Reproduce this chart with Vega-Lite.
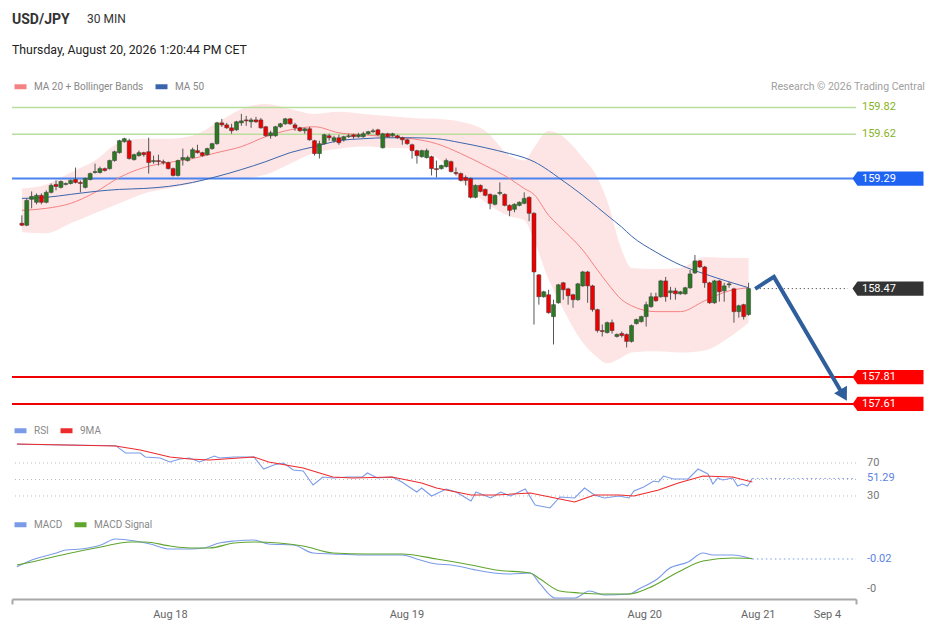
{
  "$schema": "https://vega.github.io/schema/vega-lite/v6.json",
  "background": "white",
  "padding": {"left": 11, "top": 12, "right": 3, "bottom": 10},
  "title": {
    "text": "USD/JPY",
    "subtitle": "Thursday, August 20, 2026 1:20:44 PM CET",
    "anchor": "start",
    "frame": "group",
    "offset": -44,
    "fontSize": 14,
    "fontWeight": "bold",
    "color": "#333333",
    "subtitleFontSize": 12.3,
    "subtitleColor": "#222222",
    "subtitlePadding": 17
  },
  "bounds": "flush",
  "spacing": 27,
  "resolve": {"scale": {"color": "independent", "fill": "independent"}, "legend": {"color": "independent"}},
  "datasets": {
    "candles": [
      {"i":0,"o":158.957,"h":159.016,"l":158.935,"c":158.942},
      {"i":1,"o":158.942,"h":159.142,"l":158.935,"c":159.127},
      {"i":2,"o":159.135,"h":159.194,"l":159.068,"c":159.157},
      {"i":3,"o":159.113,"h":159.179,"l":159.098,"c":159.165},
      {"i":4,"o":159.165,"h":159.179,"l":159.098,"c":159.113},
      {"i":5,"o":159.113,"h":159.202,"l":159.105,"c":159.187},
      {"i":6,"o":159.187,"h":159.253,"l":159.179,"c":159.239},
      {"i":7,"o":159.246,"h":159.276,"l":159.202,"c":159.231},
      {"i":8,"o":159.224,"h":159.276,"l":159.216,"c":159.268},
      {"i":9,"o":159.246,"h":159.261,"l":159.239,"c":159.253},
      {"i":10,"o":159.253,"h":159.283,"l":159.246,"c":159.276},
      {"i":11,"o":159.283,"h":159.372,"l":159.253,"c":159.261},
      {"i":12,"o":159.261,"h":159.276,"l":159.187,"c":159.253},
      {"i":13,"o":159.224,"h":159.298,"l":159.216,"c":159.290},
      {"i":14,"o":159.283,"h":159.335,"l":159.276,"c":159.327},
      {"i":15,"o":159.335,"h":159.401,"l":159.327,"c":159.342},
      {"i":16,"o":159.335,"h":159.379,"l":159.327,"c":159.364},
      {"i":17,"o":159.364,"h":159.372,"l":159.342,"c":159.350},
      {"i":18,"o":159.364,"h":159.431,"l":159.357,"c":159.424},
      {"i":19,"o":159.424,"h":159.498,"l":159.416,"c":159.490},
      {"i":20,"o":159.483,"h":159.579,"l":159.476,"c":159.572},
      {"i":21,"o":159.565,"h":159.594,"l":159.557,"c":159.587},
      {"i":22,"o":159.572,"h":159.587,"l":159.431,"c":159.439},
      {"i":23,"o":159.431,"h":159.476,"l":159.424,"c":159.468},
      {"i":24,"o":159.461,"h":159.498,"l":159.453,"c":159.483},
      {"i":25,"o":159.483,"h":159.490,"l":159.453,"c":159.468},
      {"i":26,"o":159.490,"h":159.594,"l":159.327,"c":159.409},
      {"i":27,"o":159.416,"h":159.461,"l":159.401,"c":159.424},
      {"i":28,"o":159.424,"h":159.468,"l":159.387,"c":159.416},
      {"i":29,"o":159.416,"h":159.431,"l":159.394,"c":159.409},
      {"i":30,"o":159.409,"h":159.416,"l":159.357,"c":159.364},
      {"i":31,"o":159.364,"h":159.372,"l":159.305,"c":159.313},
      {"i":32,"o":159.313,"h":159.431,"l":159.305,"c":159.424},
      {"i":33,"o":159.431,"h":159.513,"l":159.387,"c":159.446},
      {"i":34,"o":159.424,"h":159.461,"l":159.416,"c":159.446},
      {"i":35,"o":159.446,"h":159.520,"l":159.439,"c":159.505},
      {"i":36,"o":159.498,"h":159.542,"l":159.476,"c":159.483},
      {"i":37,"o":159.483,"h":159.490,"l":159.453,"c":159.461},
      {"i":38,"o":159.468,"h":159.520,"l":159.461,"c":159.513},
      {"i":39,"o":159.513,"h":159.557,"l":159.505,"c":159.550},
      {"i":40,"o":159.550,"h":159.713,"l":159.542,"c":159.705},
      {"i":41,"o":159.705,"h":159.735,"l":159.676,"c":159.690},
      {"i":42,"o":159.690,"h":159.705,"l":159.661,"c":159.668},
      {"i":43,"o":159.668,"h":159.698,"l":159.624,"c":159.646},
      {"i":44,"o":159.653,"h":159.720,"l":159.646,"c":159.713},
      {"i":45,"o":159.705,"h":159.772,"l":159.683,"c":159.720},
      {"i":46,"o":159.727,"h":159.757,"l":159.683,"c":159.720},
      {"i":47,"o":159.713,"h":159.742,"l":159.668,"c":159.727},
      {"i":48,"o":159.727,"h":159.750,"l":159.705,"c":159.713},
      {"i":49,"o":159.727,"h":159.742,"l":159.661,"c":159.668},
      {"i":50,"o":159.676,"h":159.683,"l":159.602,"c":159.609},
      {"i":51,"o":159.609,"h":159.646,"l":159.587,"c":159.631},
      {"i":52,"o":159.609,"h":159.683,"l":159.602,"c":159.676},
      {"i":53,"o":159.676,"h":159.705,"l":159.668,"c":159.698},
      {"i":54,"o":159.698,"h":159.742,"l":159.690,"c":159.735},
      {"i":55,"o":159.735,"h":159.742,"l":159.690,"c":159.698},
      {"i":56,"o":159.690,"h":159.705,"l":159.646,"c":159.668},
      {"i":57,"o":159.668,"h":159.676,"l":159.639,"c":159.646},
      {"i":58,"o":159.646,"h":159.668,"l":159.624,"c":159.661},
      {"i":59,"o":159.661,"h":159.676,"l":159.572,"c":159.579},
      {"i":60,"o":159.572,"h":159.579,"l":159.461,"c":159.476},
      {"i":61,"o":159.476,"h":159.572,"l":159.439,"c":159.550},
      {"i":62,"o":159.550,"h":159.624,"l":159.542,"c":159.616},
      {"i":63,"o":159.609,"h":159.624,"l":159.572,"c":159.594},
      {"i":64,"o":159.572,"h":159.609,"l":159.557,"c":159.594},
      {"i":65,"o":159.594,"h":159.616,"l":159.542,"c":159.557},
      {"i":66,"o":159.579,"h":159.609,"l":159.565,"c":159.602},
      {"i":67,"o":159.602,"h":159.624,"l":159.594,"c":159.609},
      {"i":68,"o":159.616,"h":159.624,"l":159.587,"c":159.602},
      {"i":69,"o":159.602,"h":159.631,"l":159.594,"c":159.616},
      {"i":70,"o":159.602,"h":159.639,"l":159.594,"c":159.624},
      {"i":71,"o":159.624,"h":159.646,"l":159.616,"c":159.639},
      {"i":72,"o":159.639,"h":159.661,"l":159.631,"c":159.646},
      {"i":73,"o":159.653,"h":159.661,"l":159.609,"c":159.616},
      {"i":74,"o":159.520,"h":159.631,"l":159.513,"c":159.624},
      {"i":75,"o":159.624,"h":159.631,"l":159.594,"c":159.602},
      {"i":76,"o":159.609,"h":159.631,"l":159.602,"c":159.624},
      {"i":77,"o":159.609,"h":159.616,"l":159.587,"c":159.594},
      {"i":78,"o":159.594,"h":159.602,"l":159.542,"c":159.579},
      {"i":79,"o":159.579,"h":159.587,"l":159.542,"c":159.550},
      {"i":80,"o":159.542,"h":159.550,"l":159.439,"c":159.498},
      {"i":81,"o":159.498,"h":159.505,"l":159.401,"c":159.461},
      {"i":82,"o":159.453,"h":159.505,"l":159.446,"c":159.498},
      {"i":83,"o":159.446,"h":159.513,"l":159.439,"c":159.498},
      {"i":84,"o":159.453,"h":159.461,"l":159.313,"c":159.364},
      {"i":85,"o":159.364,"h":159.424,"l":159.298,"c":159.357},
      {"i":86,"o":159.364,"h":159.394,"l":159.357,"c":159.387},
      {"i":87,"o":159.379,"h":159.439,"l":159.372,"c":159.424},
      {"i":88,"o":159.416,"h":159.424,"l":159.335,"c":159.342},
      {"i":89,"o":159.335,"h":159.372,"l":159.313,"c":159.327},
      {"i":90,"o":159.327,"h":159.335,"l":159.268,"c":159.276},
      {"i":91,"o":159.298,"h":159.313,"l":159.239,"c":159.276},
      {"i":92,"o":159.290,"h":159.298,"l":159.142,"c":159.150},
      {"i":93,"o":159.150,"h":159.246,"l":159.142,"c":159.239},
      {"i":94,"o":159.239,"h":159.246,"l":159.187,"c":159.194},
      {"i":95,"o":159.209,"h":159.216,"l":159.157,"c":159.165},
      {"i":96,"o":159.172,"h":159.179,"l":159.061,"c":159.105},
      {"i":97,"o":159.098,"h":159.172,"l":159.090,"c":159.165},
      {"i":98,"o":159.179,"h":159.261,"l":159.165,"c":159.187},
      {"i":99,"o":159.172,"h":159.179,"l":159.083,"c":159.090},
      {"i":100,"o":159.090,"h":159.098,"l":159.009,"c":159.053},
      {"i":101,"o":159.061,"h":159.105,"l":159.039,"c":159.098},
      {"i":102,"o":159.090,"h":159.120,"l":159.083,"c":159.113},
      {"i":103,"o":159.105,"h":159.187,"l":159.098,"c":159.142},
      {"i":104,"o":159.150,"h":159.157,"l":158.972,"c":159.031},
      {"i":105,"o":159.031,"h":159.039,"l":158.202,"c":158.594},
      {"i":106,"o":158.572,"h":158.579,"l":158.350,"c":158.409},
      {"i":107,"o":158.409,"h":158.453,"l":158.402,"c":158.446},
      {"i":108,"o":158.424,"h":158.461,"l":158.283,"c":158.290},
      {"i":109,"o":158.261,"h":158.387,"l":158.053,"c":158.350},
      {"i":110,"o":158.364,"h":158.505,"l":158.357,"c":158.498},
      {"i":111,"o":158.513,"h":158.520,"l":158.387,"c":158.461},
      {"i":112,"o":158.468,"h":158.476,"l":158.350,"c":158.416},
      {"i":113,"o":158.424,"h":158.431,"l":158.327,"c":158.387},
      {"i":114,"o":158.387,"h":158.513,"l":158.379,"c":158.505},
      {"i":115,"o":158.490,"h":158.602,"l":158.483,"c":158.594},
      {"i":116,"o":158.594,"h":158.602,"l":158.364,"c":158.490},
      {"i":117,"o":158.490,"h":158.498,"l":158.298,"c":158.313},
      {"i":118,"o":158.313,"h":158.320,"l":158.142,"c":158.157},
      {"i":119,"o":158.157,"h":158.202,"l":158.113,"c":158.150},
      {"i":120,"o":158.142,"h":158.224,"l":158.135,"c":158.216},
      {"i":121,"o":158.216,"h":158.239,"l":158.135,"c":158.157},
      {"i":122,"o":158.113,"h":158.135,"l":158.105,"c":158.128},
      {"i":123,"o":158.135,"h":158.150,"l":158.105,"c":158.120},
      {"i":124,"o":158.128,"h":158.135,"l":158.031,"c":158.076},
      {"i":125,"o":158.076,"h":158.202,"l":158.068,"c":158.194},
      {"i":126,"o":158.209,"h":158.246,"l":158.202,"c":158.239},
      {"i":127,"o":158.224,"h":158.268,"l":158.216,"c":158.261},
      {"i":128,"o":158.261,"h":158.372,"l":158.187,"c":158.350},
      {"i":129,"o":158.335,"h":158.439,"l":158.327,"c":158.409},
      {"i":130,"o":158.409,"h":158.439,"l":158.372,"c":158.379},
      {"i":131,"o":158.409,"h":158.535,"l":158.402,"c":158.527},
      {"i":132,"o":158.527,"h":158.557,"l":158.372,"c":158.409},
      {"i":133,"o":158.439,"h":158.483,"l":158.387,"c":158.453},
      {"i":134,"o":158.453,"h":158.476,"l":158.387,"c":158.431},
      {"i":135,"o":158.431,"h":158.453,"l":158.424,"c":158.446},
      {"i":136,"o":158.431,"h":158.483,"l":158.424,"c":158.476},
      {"i":137,"o":158.476,"h":158.609,"l":158.468,"c":158.579},
      {"i":138,"o":158.587,"h":158.720,"l":158.579,"c":158.676},
      {"i":139,"o":158.676,"h":158.683,"l":158.624,"c":158.631},
      {"i":140,"o":158.631,"h":158.639,"l":158.476,"c":158.513},
      {"i":141,"o":158.513,"h":158.520,"l":158.357,"c":158.364},
      {"i":142,"o":158.364,"h":158.535,"l":158.357,"c":158.527},
      {"i":143,"o":158.527,"h":158.535,"l":158.372,"c":158.446},
      {"i":144,"o":158.453,"h":158.513,"l":158.372,"c":158.490},
      {"i":145,"o":158.498,"h":158.520,"l":158.476,"c":158.505},
      {"i":146,"o":158.468,"h":158.476,"l":158.216,"c":158.298},
      {"i":147,"o":158.298,"h":158.350,"l":158.253,"c":158.342},
      {"i":148,"o":158.350,"h":158.357,"l":158.239,"c":158.261},
      {"i":149,"o":158.276,"h":158.513,"l":158.268,"c":158.470}
    ],
    "bands": [
      {"i":0,"ma20":159.053,"ma50":159.142,"up":159.216,"lo":158.890},
      {"i":5,"ma20":159.068,"ma50":159.150,"up":159.246,"lo":158.883},
      {"i":10,"ma20":159.105,"ma50":159.172,"up":159.335,"lo":158.957},
      {"i":15,"ma20":159.187,"ma50":159.194,"up":159.424,"lo":159.031},
      {"i":20,"ma20":159.298,"ma50":159.209,"up":159.557,"lo":159.105},
      {"i":25,"ma20":159.372,"ma50":159.216,"up":159.587,"lo":159.179},
      {"i":30,"ma20":159.409,"ma50":159.231,"up":159.587,"lo":159.216},
      {"i":35,"ma20":159.439,"ma50":159.261,"up":159.609,"lo":159.253},
      {"i":40,"ma20":159.483,"ma50":159.305,"up":159.705,"lo":159.298},
      {"i":45,"ma20":159.528,"ma50":159.357,"up":159.809,"lo":159.290},
      {"i":50,"ma20":159.602,"ma50":159.416,"up":159.846,"lo":159.320},
      {"i":55,"ma20":159.653,"ma50":159.483,"up":159.809,"lo":159.401},
      {"i":60,"ma20":159.676,"ma50":159.528,"up":159.772,"lo":159.483},
      {"i":65,"ma20":159.631,"ma50":159.572,"up":159.787,"lo":159.513},
      {"i":70,"ma20":159.616,"ma50":159.587,"up":159.772,"lo":159.528},
      {"i":75,"ma20":159.602,"ma50":159.594,"up":159.757,"lo":159.520},
      {"i":80,"ma20":159.587,"ma50":159.594,"up":159.742,"lo":159.513},
      {"i":85,"ma20":159.550,"ma50":159.587,"up":159.735,"lo":159.446},
      {"i":90,"ma20":159.476,"ma50":159.557,"up":159.713,"lo":159.276},
      {"i":95,"ma20":159.387,"ma50":159.520,"up":159.646,"lo":159.113},
      {"i":100,"ma20":159.290,"ma50":159.476,"up":159.461,"lo":159.009},
      {"i":103,"ma20":159.216,"ma50":159.446,"up":159.424,"lo":158.979},
      {"i":105,"ma20":159.172,"ma50":159.416,"up":159.520,"lo":158.831},
      {"i":108,"ma20":159.016,"ma50":159.350,"up":159.646,"lo":158.535},
      {"i":110,"ma20":158.942,"ma50":159.298,"up":159.624,"lo":158.387},
      {"i":115,"ma20":158.757,"ma50":159.165,"up":159.446,"lo":158.068},
      {"i":118,"ma20":158.609,"ma50":159.076,"up":159.298,"lo":157.957},
      {"i":120,"ma20":158.513,"ma50":159.016,"up":159.127,"lo":157.913},
      {"i":123,"ma20":158.387,"ma50":158.928,"up":158.757,"lo":157.957},
      {"i":125,"ma20":158.342,"ma50":158.861,"up":158.624,"lo":157.994},
      {"i":130,"ma20":158.298,"ma50":158.742,"up":158.616,"lo":158.002},
      {"i":135,"ma20":158.298,"ma50":158.646,"up":158.624,"lo":157.994},
      {"i":140,"ma20":158.379,"ma50":158.579,"up":158.705,"lo":158.009},
      {"i":145,"ma20":158.453,"ma50":158.520,"up":158.698,"lo":158.105},
      {"i":149,"ma20":158.476,"ma50":158.476,"up":158.698,"lo":158.216}
    ],
    "levels": [
      {"p":159.82,"t":"159.82","k":"target"},
      {"p":159.62,"t":"159.62","k":"target"},
      {"p":159.29,"t":"159.29","k":"pivot"},
      {"p":158.47,"t":"158.47","k":"last"},
      {"p":157.81,"t":"157.81","k":"support"},
      {"p":157.61,"t":"157.61","k":"support"}
    ],
    "rsi": [
      {"i":0,"s":"RSI","v":92.7},{"i":20,"s":"RSI","v":91.0},{"i":22,"s":"RSI","v":82.1},{"i":25,"s":"RSI","v":82.1},
      {"i":26,"s":"RSI","v":77.3},{"i":29,"s":"RSI","v":76.1},{"i":31,"s":"RSI","v":71.2},{"i":33,"s":"RSI","v":74.8},
      {"i":35,"s":"RSI","v":76.1},{"i":37,"s":"RSI","v":71.2},{"i":40,"s":"RSI","v":78.5},{"i":41,"s":"RSI","v":76.1},
      {"i":44,"s":"RSI","v":77.3},{"i":48,"s":"RSI","v":77.3},{"i":50,"s":"RSI","v":62.7},{"i":52,"s":"RSI","v":67.6},
      {"i":54,"s":"RSI","v":70.0},{"i":56,"s":"RSI","v":61.5},{"i":58,"s":"RSI","v":60.3},{"i":60,"s":"RSI","v":43.3},
      {"i":62,"s":"RSI","v":53.0},{"i":64,"s":"RSI","v":51.8},{"i":67,"s":"RSI","v":53.0},{"i":70,"s":"RSI","v":53.0},
      {"i":71,"s":"RSI","v":57.9},{"i":73,"s":"RSI","v":51.8},{"i":76,"s":"RSI","v":53.0},{"i":78,"s":"RSI","v":47.0},
      {"i":81,"s":"RSI","v":34.8},{"i":82,"s":"RSI","v":39.7},{"i":84,"s":"RSI","v":30.0},{"i":87,"s":"RSI","v":38.5},
      {"i":89,"s":"RSI","v":34.8},{"i":90,"s":"RSI","v":31.2},{"i":92,"s":"RSI","v":23.9},{"i":93,"s":"RSI","v":34.8},
      {"i":96,"s":"RSI","v":27.6},{"i":98,"s":"RSI","v":34.8},{"i":100,"s":"RSI","v":30.0},{"i":103,"s":"RSI","v":38.5},
      {"i":105,"s":"RSI","v":19.1},{"i":107,"s":"RSI","v":16.7},{"i":108,"s":"RSI","v":15.5},{"i":110,"s":"RSI","v":28.8},
      {"i":113,"s":"RSI","v":27.6},{"i":115,"s":"RSI","v":39.7},{"i":117,"s":"RSI","v":31.2},{"i":119,"s":"RSI","v":27.6},
      {"i":122,"s":"RSI","v":30.0},{"i":124,"s":"RSI","v":27.6},{"i":125,"s":"RSI","v":36.1},{"i":127,"s":"RSI","v":40.9},
      {"i":129,"s":"RSI","v":48.2},{"i":130,"s":"RSI","v":47.0},{"i":131,"s":"RSI","v":54.2},{"i":133,"s":"RSI","v":50.6},
      {"i":136,"s":"RSI","v":50.6},{"i":138,"s":"RSI","v":62.7},{"i":140,"s":"RSI","v":56.7},{"i":141,"s":"RSI","v":44.5},
      {"i":142,"s":"RSI","v":51.8},{"i":143,"s":"RSI","v":49.4},{"i":145,"s":"RSI","v":51.8},{"i":146,"s":"RSI","v":42.1},
      {"i":147,"s":"RSI","v":44.5},{"i":148,"s":"RSI","v":42.1},{"i":149,"s":"RSI","v":51.29},
      {"i":0,"s":"9MA","v":93.0},{"i":20,"s":"9MA","v":90.6},{"i":25,"s":"9MA","v":85.8},{"i":31,"s":"9MA","v":77.3},
      {"i":35,"s":"9MA","v":74.8},{"i":39,"s":"9MA","v":73.6},{"i":48,"s":"9MA","v":77.3},{"i":51,"s":"9MA","v":71.2},
      {"i":58,"s":"9MA","v":63.9},{"i":64,"s":"9MA","v":53.0},{"i":68,"s":"9MA","v":51.8},{"i":76,"s":"9MA","v":53.0},
      {"i":82,"s":"9MA","v":45.8},{"i":85,"s":"9MA","v":39.7},{"i":92,"s":"9MA","v":31.2},{"i":97,"s":"9MA","v":31.2},
      {"i":104,"s":"9MA","v":33.6},{"i":109,"s":"9MA","v":27.6},{"i":113,"s":"9MA","v":22.7},{"i":117,"s":"9MA","v":31.2},
      {"i":122,"s":"9MA","v":31.2},{"i":125,"s":"9MA","v":30.0},{"i":130,"s":"9MA","v":37.3},{"i":134,"s":"9MA","v":45.8},
      {"i":139,"s":"9MA","v":54.2},{"i":145,"s":"9MA","v":53.0},{"i":149,"s":"9MA","v":47.0}
    ],
    "macd": [
      {"i":0,"s":"MACD","v":-0.092},{"i":3,"s":"MACD","v":-0.029},{"i":8,"s":"MACD","v":0.036},{"i":10,"s":"MACD","v":0.064},
      {"i":13,"s":"MACD","v":0.073},{"i":17,"s":"MACD","v":0.111},{"i":20,"s":"MACD","v":0.167},{"i":24,"s":"MACD","v":0.148},
      {"i":27,"s":"MACD","v":0.120},{"i":31,"s":"MACD","v":0.073},{"i":35,"s":"MACD","v":0.073},{"i":38,"s":"MACD","v":0.083},
      {"i":41,"s":"MACD","v":0.129},{"i":44,"s":"MACD","v":0.148},{"i":48,"s":"MACD","v":0.157},{"i":51,"s":"MACD","v":0.120},
      {"i":56,"s":"MACD","v":0.111},{"i":60,"s":"MACD","v":0.036},{"i":64,"s":"MACD","v":0.027},{"i":70,"s":"MACD","v":0.017},
      {"i":78,"s":"MACD","v":0.017},{"i":81,"s":"MACD","v":-0.020},{"i":85,"s":"MACD","v":-0.067},{"i":88,"s":"MACD","v":-0.076},
      {"i":92,"s":"MACD","v":-0.113},{"i":93,"s":"MACD","v":-0.123},{"i":100,"s":"MACD","v":-0.160},{"i":104,"s":"MACD","v":-0.151},
      {"i":106,"s":"MACD","v":-0.253},{"i":109,"s":"MACD","v":-0.384},{"i":113,"s":"MACD","v":-0.384},{"i":116,"s":"MACD","v":-0.319},
      {"i":119,"s":"MACD","v":-0.356},{"i":124,"s":"MACD","v":-0.347},{"i":126,"s":"MACD","v":-0.300},{"i":130,"s":"MACD","v":-0.197},
      {"i":132,"s":"MACD","v":-0.113},{"i":136,"s":"MACD","v":-0.048},{"i":139,"s":"MACD","v":0.036},{"i":141,"s":"MACD","v":0.017},
      {"i":145,"s":"MACD","v":0.017},{"i":149,"s":"MACD","v":-0.020},
      {"i":0,"s":"MACD Signal","v":-0.076},{"i":3,"s":"MACD Signal","v":-0.048},{"i":10,"s":"MACD Signal","v":0.027},
      {"i":17,"s":"MACD Signal","v":0.092},{"i":23,"s":"MACD Signal","v":0.139},{"i":26,"s":"MACD Signal","v":0.139},
      {"i":31,"s":"MACD Signal","v":0.101},{"i":35,"s":"MACD Signal","v":0.083},{"i":39,"s":"MACD Signal","v":0.083},
      {"i":44,"s":"MACD Signal","v":0.129},{"i":48,"s":"MACD Signal","v":0.139},{"i":58,"s":"MACD Signal","v":0.101},
      {"i":64,"s":"MACD Signal","v":0.036},{"i":71,"s":"MACD Signal","v":0.027},{"i":78,"s":"MACD Signal","v":0.027},
      {"i":85,"s":"MACD Signal","v":-0.020},{"i":92,"s":"MACD Signal","v":-0.076},{"i":97,"s":"MACD Signal","v":-0.123},
      {"i":104,"s":"MACD Signal","v":-0.151},{"i":106,"s":"MACD Signal","v":-0.207},{"i":110,"s":"MACD Signal","v":-0.319},
      {"i":114,"s":"MACD Signal","v":-0.337},{"i":119,"s":"MACD Signal","v":-0.347},{"i":124,"s":"MACD Signal","v":-0.347},
      {"i":128,"s":"MACD Signal","v":-0.291},{"i":134,"s":"MACD Signal","v":-0.141},{"i":139,"s":"MACD Signal","v":-0.039},
      {"i":145,"s":"MACD Signal","v":-0.011},{"i":149,"s":"MACD Signal","v":-0.015}
    ]
  },
  "vconcat": [
    {
      "width": 844,
      "height": 311,
      "title": {"text": "30 MIN", "anchor": "start", "frame": "group", "fontSize": 12, "fontWeight": "normal", "color": "#333333", "offset": 52.5, "dx": 75},
      "layer": [
        {
          "data": {"name": "bands"},
          "mark": {"type": "area", "interpolate": "monotone", "color": "#fee5e5"},
          "encoding": {
            "x": {"field": "i", "type": "quantitative", "scale": {"domain": [-1, 170], "nice": false, "zero": false}, "axis": null},
            "y": {"field": "up", "type": "quantitative", "scale": {"domain": [157.55, 159.868], "nice": false, "zero": false}, "axis": null},
            "y2": {"field": "lo"}
          }
        },
        {
          "data": {"name": "levels"},
          "transform": [{"filter": "datum.k == 'target'"}],
          "mark": {"type": "rule", "color": "#b9dd9c", "strokeWidth": 1.5},
          "encoding": {"y": {"field": "p", "type": "quantitative", "axis": null}}
        },
        {
          "data": {"name": "levels"},
          "transform": [{"filter": "datum.k == 'pivot'"}],
          "mark": {"type": "rule", "color": "#4a84f0", "strokeWidth": 2},
          "encoding": {"y": {"field": "p", "type": "quantitative", "axis": null}}
        },
        {
          "data": {"name": "levels"},
          "transform": [{"filter": "datum.k == 'support'"}],
          "mark": {"type": "rule", "color": "#ee0000", "strokeWidth": 2},
          "encoding": {"y": {"field": "p", "type": "quantitative", "axis": null}}
        },
        {
          "data": {"name": "bands"},
          "transform": [{"fold": ["ma20", "ma50"], "as": ["k", "v"]}],
          "mark": {"type": "line", "interpolate": "monotone", "strokeWidth": 1},
          "encoding": {
            "x": {"field": "i", "type": "quantitative", "axis": null},
            "y": {"field": "v", "type": "quantitative", "axis": null},
            "color": {"field": "k", "type": "nominal", "scale": {"domain": ["ma20", "ma50"], "range": ["#f58282", "#3a65ad"]},
                      "legend": {"title": "Research © 2026 Trading Central", "titleOrient": "right", "titlePadding": 567, "titleFontSize": 10.5, "titleFontWeight": "normal", "titleColor": "#a0a0a0", "titleBaseline": "middle", "titleAnchor": "middle", "titleLimit": 400,
                                 "orient": "none", "legendX": 0, "legendY": -23, "direction": "horizontal", "symbolType": "stroke", "symbolStrokeWidth": 5, "symbolSize": 144, "labelFontSize": 10, "labelColor": "#888888", "labelOffset": 5, "columnPadding": 1, "padding": 0,
                                 "labelExpr": "datum.label == 'ma20' ? 'MA 20 + Bollinger Bands' : 'MA 50'"}}
          }
        },
        {
          "data": {"name": "candles"},
          "mark": {"type": "rule", "color": "#555555", "strokeWidth": 1},
          "encoding": {
            "x": {"field": "i", "type": "quantitative", "axis": null},
            "y": {"field": "l", "type": "quantitative", "axis": null},
            "y2": {"field": "h"}
          }
        },
        {
          "data": {"name": "candles"},
          "mark": {"type": "bar", "size": 4, "stroke": "#3a3a3a", "strokeWidth": 0.5},
          "encoding": {
            "x": {"field": "i", "type": "quantitative", "axis": null},
            "y": {"field": "o", "type": "quantitative", "axis": null},
            "y2": {"field": "c"},
            "fill": {"condition": {"test": "datum.c >= datum.o", "value": "#2b7a23"}, "value": "#ee0000"}
          }
        },
        {
          "data": {"name": "levels"},
          "transform": [{"filter": "datum.k == 'last'"}],
          "mark": {"type": "rule", "color": "#333333", "strokeWidth": 1, "strokeDash": [1, 3]},
          "encoding": {
            "x": {"datum": 151.3, "type": "quantitative", "axis": null},
            "x2": {"datum": 169.4},
            "y": {"field": "p", "type": "quantitative", "axis": null}
          }
        },
        {
          "data": {"values": [
            {"i": 150.35, "p": 158.468},
            {"i": 154.2, "p": 158.557},
            {"i": 168.3, "p": 157.683}
          ]},
          "mark": {"type": "line", "color": "#2f5e9c", "strokeWidth": 4, "strokeJoin": "miter"},
          "encoding": {
            "x": {"field": "i", "type": "quantitative", "axis": null},
            "y": {"field": "p", "type": "quantitative", "axis": null}
          }
        },
        {
          "data": {"values": [{"i": 168.5, "p": 157.676}]},
          "mark": {"type": "point", "shape": "triangle-down", "filled": true, "size": 220, "angle": 330.6, "color": "#2f5e9c", "opacity": 1},
          "encoding": {
            "x": {"field": "i", "type": "quantitative", "axis": null},
            "y": {"field": "p", "type": "quantitative", "axis": null}
          }
        },
        {
          "data": {"name": "levels"},
          "transform": [{"filter": "datum.k != 'target'"}],
          "mark": {"type": "point", "shape": "M-1,0L-0.86,-0.2L1,-0.2L1,0.2L-0.86,0.2Z", "filled": true, "size": 5041, "xOffset": 37, "strokeWidth": 0, "opacity": 1},
          "encoding": {
            "x": {"datum": 170, "type": "quantitative", "axis": null},
            "y": {"field": "p", "type": "quantitative", "axis": null},
            "fill": {"condition": [
              {"test": "datum.k == 'pivot'", "value": "#1f63f2"},
              {"test": "datum.k == 'last'", "value": "#333333"}
            ], "value": "#ff0000"}
          }
        },
        {
          "data": {"name": "levels"},
          "mark": {"type": "text", "align": "left", "baseline": "middle", "xOffset": 11, "fontSize": 11},
          "encoding": {
            "x": {"datum": 170, "type": "quantitative", "axis": null},
            "y": {"field": "p", "type": "quantitative", "axis": null},
            "text": {"field": "t"},
            "fill": {"condition": {"test": "datum.k == 'target'", "value": "#88b21e"}, "value": "#ffffff"}
          }
        }
      ]
    },
    {
      "width": 844,
      "height": 70,
      "layer": [
        {
          "data": {"values": [{"v": 70}, {"v": 50}, {"v": 30}]},
          "mark": {"type": "rule", "color": "#bbbbbb", "strokeWidth": 1, "strokeDash": [1, 3]},
          "encoding": {"y": {"field": "v", "type": "quantitative", "scale": {"domain": [14.24, 99.09], "nice": false, "zero": false}, "axis": null}}
        },
        {
          "data": {"name": "rsi"},
          "mark": {"type": "line", "strokeWidth": 1.1},
          "encoding": {
            "x": {"field": "i", "type": "quantitative", "scale": {"domain": [-1, 170], "nice": false, "zero": false}, "axis": null},
            "y": {"field": "v", "type": "quantitative", "axis": null},
            "color": {"field": "s", "type": "nominal", "scale": {"domain": ["RSI", "9MA"], "range": ["#7b9be8", "#ee2b2b"]},
                      "legend": {"title": null, "orient": "none", "legendX": 0, "legendY": -17, "direction": "horizontal", "symbolType": "stroke", "symbolStrokeWidth": 5, "symbolSize": 144, "labelFontSize": 10, "labelColor": "#888888", "labelOffset": 5, "columnPadding": 1, "padding": 0}}
          }
        },
        {
          "data": {"values": [{"v": 51.29}]},
          "mark": {"type": "rule", "color": "#7b9be8", "strokeWidth": 1, "strokeDash": [1.5, 3]},
          "encoding": {
            "x": {"datum": 149, "type": "quantitative", "axis": null},
            "x2": {"datum": 170},
            "y": {"field": "v", "type": "quantitative", "axis": null}
          }
        },
        {
          "data": {"values": [{"v": 70, "t": "70", "k": "lvl"}, {"v": 51.29, "t": "51.29", "k": "cur"}, {"v": 30, "t": "30", "k": "lvl"}]},
          "mark": {"type": "text", "align": "left", "baseline": "middle", "xOffset": 11, "fontSize": 11},
          "encoding": {
            "x": {"datum": 170, "type": "quantitative", "axis": null},
            "y": {"field": "v", "type": "quantitative", "axis": null},
            "text": {"field": "t"},
            "fill": {"condition": {"test": "datum.k == 'cur'", "value": "#5b83e6"}, "value": "#777777"}
          }
        }
      ]
    },
    {
      "width": 844,
      "height": 63,
      "layer": [
        {
          "data": {"name": "macd"},
          "mark": {"type": "line", "strokeWidth": 1.1, "interpolate": "monotone"},
          "encoding": {
            "x": {"field": "i", "type": "quantitative", "scale": {"domain": [-1, 170], "nice": false, "zero": false},
                  "axis": {"title": null, "values": [-1, 31, 78.9, 127.1, 150.1, 164.1, 170], "grid": false, "labelOverlap": false, "labelBound": false, "labelFlush": false,
                           "labelExpr": "datum.value == 31 ? 'Aug 18' : datum.value == 78.9 ? 'Aug 19' : datum.value == 127.1 ? 'Aug 20' : datum.value == 150.1 ? 'Aug 21' : datum.value == 164.1 ? 'Sep 4' : ''",
                           "labelFontSize": 11, "labelColor": "#666666", "labelPadding": 4, "domainColor": "#a8a8a8", "domainWidth": 2, "tickColor": "#a8a8a8", "tickWidth": 2, "tickSize": 5,
                           "tickOpacity": {"condition": {"test": "datum.value == -1 || datum.value == 170", "value": 1}, "value": 0}}},
            "y": {"field": "v", "type": "quantitative", "scale": {"domain": [-0.3933, 0.1945], "nice": false, "zero": false}, "axis": null},
            "color": {"field": "s", "type": "nominal", "scale": {"domain": ["MACD", "MACD Signal"], "range": ["#7b9be8", "#5fa52e"]},
                      "legend": {"title": null, "orient": "none", "legendX": 0, "legendY": -20, "direction": "horizontal", "symbolType": "stroke", "symbolStrokeWidth": 5, "symbolSize": 144, "labelFontSize": 10, "labelColor": "#888888", "labelOffset": 5, "columnPadding": 1, "padding": 0}}
          }
        },
        {
          "data": {"values": [{"v": -0.02}]},
          "mark": {"type": "rule", "color": "#7b9be8", "strokeWidth": 1, "strokeDash": [1.5, 3]},
          "encoding": {
            "x": {"datum": 149, "type": "quantitative"},
            "x2": {"datum": 170},
            "y": {"field": "v", "type": "quantitative", "axis": null}
          }
        },
        {
          "data": {"values": [{"v": -0.02, "t": "-0.02", "k": "cur"}, {"v": -0.30, "t": "-0", "k": "lvl"}]},
          "mark": {"type": "text", "align": "left", "baseline": "middle", "xOffset": 11, "fontSize": 11},
          "encoding": {
            "x": {"datum": 170, "type": "quantitative"},
            "y": {"field": "v", "type": "quantitative", "axis": null},
            "text": {"field": "t"},
            "fill": {"condition": {"test": "datum.k == 'cur'", "value": "#5b83e6"}, "value": "#777777"}
          }
        }
      ]
    }
  ],
  "config": {
    "font": "Roboto",
    "view": {"stroke": null}
  }
}
